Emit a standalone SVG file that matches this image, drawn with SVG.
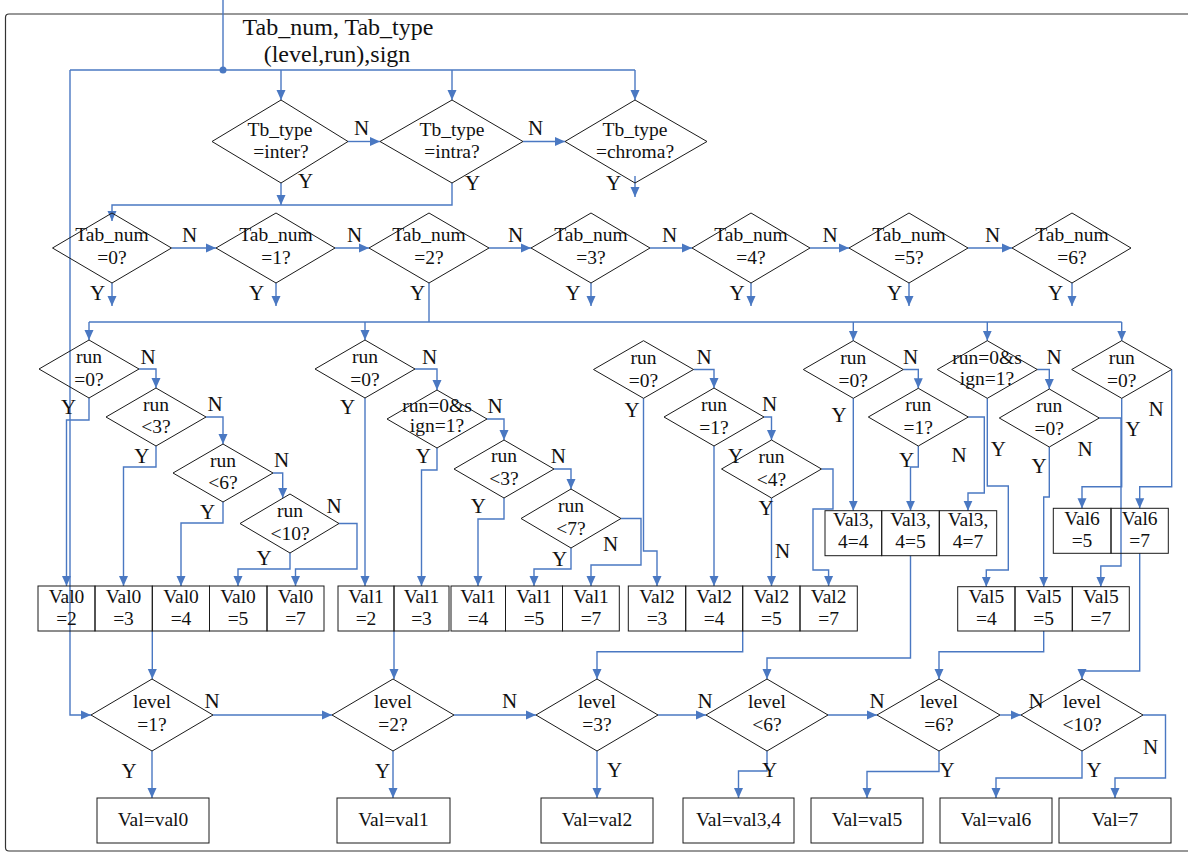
<svg xmlns="http://www.w3.org/2000/svg" width="1188" height="853" viewBox="0 0 1188 853" font-family="'Liberation Serif', 'Times New Roman', 'DejaVu Serif', serif">
<defs>
<marker id="ah" viewBox="0 0 10 10" refX="10" refY="5" markerWidth="10" markerHeight="10" markerUnits="userSpaceOnUse" orient="auto">
<path d="M0,0.5 L10,5 L0,9.5 z" fill="#4a78c2"/>
</marker>
</defs>
<style>
.c{fill:none;stroke:#4a78c2;stroke-width:1.4}
.a{marker-end:url(#ah)}
.n{fill:none;stroke:#1a1a1a;stroke-width:1}
.f{fill:none;stroke:#333;stroke-width:1.2}
text{font-family:'Liberation Serif','Times New Roman','DejaVu Serif',serif;fill:#111;text-anchor:middle}
.t{font-size:19.5px}
.l{font-size:21px}
.h{font-size:24px}
</style>
<rect width="1188" height="853" fill="#fff"/>
<!-- outer frame -->
<path class="f" d="M1192,14 H9 Q5.5,14 5.5,17.5 V847.5 Q5.5,851 9,851 H1192"/>

<!-- connectors -->
<g id="connectors">
<path class="c" d="M223,0 V70"/>
<circle cx="223" cy="70" r="3.5" fill="#4a78c2"/>
<path class="c" d="M70,70 H635"/>
<path class="c a" d="M281,70 V100"/>
<path class="c a" d="M452,70 V100"/>
<path class="c a" d="M635,70 V100"/>
<path class="c a" d="M70,70 V715 H91"/>
<path class="c a" d="M348,141.5 H380"/>
<path class="c a" d="M523,141.5 H565"/>
<path class="c a" d="M635,176 V197"/>
<path class="c a" d="M281,183 V205"/>
<path class="c a" d="M452,183 V205 H112 V221"/>
<!-- Tab_num chain -->
<path class="c a" d="M171.5,248 H216"/>
<path class="c a" d="M335,248 H369"/>
<path class="c a" d="M489,248 H531"/>
<path class="c a" d="M650,248 H692"/>
<path class="c a" d="M810,248 H849"/>
<path class="c a" d="M968,248 H1012"/>
<path class="c a" d="M112,283 V306"/>
<path class="c a" d="M276,283 V306"/>
<path class="c a" d="M591,283 V306"/>
<path class="c a" d="M751,283 V306"/>
<path class="c a" d="M909,283 V306"/>
<path class="c a" d="M1072,283 V306"/>
<path class="c" d="M429,283 V322"/>
<path class="c" d="M89,322 H1121.7"/>
<path class="c a" d="M89,322 V340"/>
<path class="c a" d="M365,322 V340"/>
<path class="c a" d="M853.3,322 V340.7"/>
<path class="c a" d="M987.3,322 V340.7"/>
<path class="c a" d="M1121.7,322 V340.7"/>
<!-- Val0 branch -->
<path class="c a" d="M139,369 H156 V388"/>
<path class="c a" d="M89,398 V420 H66.5 V586"/>
<path class="c a" d="M206,417 H223 V444"/>
<path class="c a" d="M156,446 V467 H123.5 V586"/>
<path class="c a" d="M273,473 H282.7 V498"/>
<path class="c a" d="M223,502 V523 H181 V586"/>
<path class="c a" d="M339,523.5 H357 V569 H295.5 V586"/>
<path class="c a" d="M290,553 V569 H238 V586"/>
<!-- Val1 branch -->
<path class="c a" d="M365,398 V586"/>
<path class="c a" d="M415,369 H437 V390"/>
<path class="c a" d="M437,448 V470 H421.5 V586"/>
<path class="c a" d="M487,419 H504 V440"/>
<path class="c a" d="M504,498 V519 H478 V586"/>
<path class="c a" d="M554,469 H571 V489"/>
<path class="c a" d="M571,548 V569 H534 V586"/>
<path class="c a" d="M621,518.5 H641 V565 H591 V586"/>
<!-- Val2 branch -->
<path class="c a" d="M643.5,398.3 V551 H657 V586"/>
<path class="c a" d="M693.5,369.5 H714 V388"/>
<path class="c a" d="M714,446 V586"/>
<path class="c a" d="M764,417 H771.5 V440"/>
<path class="c a" d="M771.5,498 V586"/>
<path class="c a" d="M821.5,469 H833 V509 H813 V570 H828.6 V586"/>
<!-- Val3,4 branch -->
<path class="c a" d="M853.3,398.3 V510.7"/>
<path class="c a" d="M903.3,369.5 H918.3 V388.3"/>
<path class="c a" d="M918.3,446 V467 H910.5 V510.7"/>
<path class="c a" d="M968.3,417 H984.3 V493 H968 V510.7"/>
<!-- Val5 branch -->
<path class="c a" d="M987.3,398.3 V486 H1008.3 V570 H986.3 V586.7"/>
<path class="c a" d="M1037.3,369.5 H1049.3 V389"/>
<path class="c a" d="M1049.3,447 V497 H1043.7 V586.7"/>
<path class="c a" d="M1099.3,418 H1121 V566 H1100.8 V586.7"/>
<!-- Val6 branch -->
<path class="c a" d="M1121.7,398.3 V486.7 H1082 V508.3"/>
<path class="c a" d="M1171.7,369.5 V486.7 H1139.7 V508.3"/>
<!-- level chain -->
<path class="c a" d="M152.3,631 V679"/>
<path class="c a" d="M394,631 V679"/>
<path class="c a" d="M742.7,631 V651.7 H597 V679"/>
<path class="c a" d="M910.5,555.7 V658 H767 V679"/>
<path class="c a" d="M1043.7,631 V651.7 H939 V679"/>
<path class="c a" d="M1139.7,553.3 V671 H1082 V679"/>
<path class="c a" d="M213,715 H332"/>
<path class="c a" d="M454,715 H536"/>
<path class="c a" d="M658,715 H706"/>
<path class="c a" d="M828,715 H877"/>
<path class="c a" d="M1000,715 H1021"/>
<path class="c a" d="M152,751 V798"/>
<path class="c a" d="M393,751 V798"/>
<path class="c a" d="M597,751 V798"/>
<path class="c a" d="M767,751 V771 H738.5 V798"/>
<path class="c a" d="M939,751 V771.5 H867 V798"/>
<path class="c a" d="M1082,751 V778 H996 V798"/>
<path class="c a" d="M1143,715 H1165.5 V778 H1115 V798"/>
</g>

<!-- branch labels -->
<g id="labels" class="l">
<text x="361.5" y="135">N</text>
<text x="535.5" y="135">N</text>
<text x="305.5" y="188">Y</text>
<text x="472.5" y="190">Y</text>
<text x="613.5" y="190">Y</text>
<text x="189.5" y="241.5">N</text>
<text x="354.5" y="241.5">N</text>
<text x="515.5" y="241.5">N</text>
<text x="669.5" y="241.5">N</text>
<text x="830" y="241.5">N</text>
<text x="992.5" y="241.5">N</text>
<text x="97.5" y="299.5">Y</text>
<text x="256.5" y="299.5">Y</text>
<text x="417.5" y="299.5">Y</text>
<text x="573" y="299.5">Y</text>
<text x="737" y="299.5">Y</text>
<text x="894.5" y="299.5">Y</text>
<text x="1055.5" y="299.5">Y</text>
<text x="148" y="364">N</text>
<text x="68.5" y="414">Y</text>
<text x="215" y="410.7">N</text>
<text x="141.8" y="463.3">Y</text>
<text x="281.7" y="466.7">N</text>
<text x="207.5" y="519.3">Y</text>
<text x="334" y="512.7">N</text>
<text x="264" y="565">Y</text>
<text x="347.5" y="414">Y</text>
<text x="429.5" y="364">N</text>
<text x="495" y="413.3">N</text>
<text x="423.3" y="463.3">Y</text>
<text x="558.3" y="463.3">N</text>
<text x="478.3" y="513.3">Y</text>
<text x="610.5" y="550.7">N</text>
<text x="559.5" y="566">Y</text>
<text x="704" y="364">N</text>
<text x="632" y="417.3">Y</text>
<text x="769.5" y="410.7">N</text>
<text x="735.5" y="463.3">Y</text>
<text x="766" y="515">Y</text>
<text x="782.5" y="557.7">N</text>
<text x="910.5" y="364">N</text>
<text x="839" y="421.7">Y</text>
<text x="959" y="461.7">N</text>
<text x="906.7" y="466.7">Y</text>
<text x="1054" y="364">N</text>
<text x="998.3" y="456">Y</text>
<text x="1085" y="456">N</text>
<text x="1039" y="473.3">Y</text>
<text x="1133" y="436">Y</text>
<text x="1156" y="416">N</text>
<text x="212" y="708.3">N</text>
<text x="129" y="778.3">Y</text>
<text x="509.5" y="708.3">N</text>
<text x="382.5" y="778.3">Y</text>
<text x="705" y="708.3">N</text>
<text x="614.5" y="776.7">Y</text>
<text x="769.5" y="776.7">Y</text>
<text x="877" y="708.3">N</text>
<text x="947" y="776.7">Y</text>
<text x="1036" y="708.3">N</text>
<text x="1094" y="776.7">Y</text>
<text x="1150.5" y="754">N</text>
</g>

<!-- input -->
<g id="input" class="h">
<text x="338" y="35">Tab_num, Tab_type</text>
<text x="337" y="62">(level,run),sign</text>
</g>

<!-- block type tests -->
<g id="tb_inter"><polygon class="n" points="281,100 348,141.5 281,183 212,141.5"/><text class="t" x="280" y="136">Tb_type</text><text class="t" x="281" y="158">=inter?</text></g>
<g id="tb_intra"><polygon class="n" points="452,100 523,141.5 452,183 380,141.5"/><text class="t" x="452" y="136">Tb_type</text><text class="t" x="452" y="158">=intra?</text></g>
<g id="tb_chroma"><polygon class="n" points="635,100 707,141.5 635,183 565,141.5"/><text class="t" x="635" y="136">Tb_type</text><text class="t" x="635" y="158">=chroma?</text></g>

<!-- table number tests -->
<g id="tab0"><polygon class="n" points="112,213 171.5,248 112,283 52.5,248"/><text class="t" x="112" y="241">Tab_num</text><text class="t" x="112" y="264">=0?</text></g>
<g id="tab1"><polygon class="n" points="276,213 335,248 276,283 216,248"/><text class="t" x="276" y="241">Tab_num</text><text class="t" x="276" y="264">=1?</text></g>
<g id="tab2"><polygon class="n" points="429,213 489,248 429,283 369,248"/><text class="t" x="429" y="241">Tab_num</text><text class="t" x="429" y="264">=2?</text></g>
<g id="tab3"><polygon class="n" points="591,213 650,248 591,283 531,248"/><text class="t" x="591" y="241">Tab_num</text><text class="t" x="591" y="264">=3?</text></g>
<g id="tab4"><polygon class="n" points="751,213 810,248 751,283 692,248"/><text class="t" x="751" y="241">Tab_num</text><text class="t" x="751" y="264">=4?</text></g>
<g id="tab5"><polygon class="n" points="909,213 968,248 909,283 849,248"/><text class="t" x="909" y="241">Tab_num</text><text class="t" x="909" y="264">=5?</text></g>
<g id="tab6"><polygon class="n" points="1072,213 1131,248 1072,283 1012,248"/><text class="t" x="1072" y="241">Tab_num</text><text class="t" x="1072" y="264">=6?</text></g>

<!-- run tests, table 0 -->
<g id="a0"><polygon class="n" points="89,340 139,369 89,398 39,369"/><text class="t" x="89" y="363">run</text><text class="t" x="89" y="386">=0?</text></g>
<g id="a1"><polygon class="n" points="156,388 206,417 156,446 106,417"/><text class="t" x="156" y="411">run</text><text class="t" x="156" y="433">&lt;3?</text></g>
<g id="a2"><polygon class="n" points="223,444 273,473 223,502 173,473"/><text class="t" x="223" y="467">run</text><text class="t" x="223" y="489">&lt;6?</text></g>
<g id="a3"><polygon class="n" points="290,494 339,523.5 290,553 240,523.5"/><text class="t" x="290" y="517">run</text><text class="t" x="290" y="540">&lt;10?</text></g>

<!-- run tests, table 1 -->
<g id="b0"><polygon class="n" points="365,340 415,369 365,398 315,369"/><text class="t" x="365" y="363">run</text><text class="t" x="365" y="386">=0?</text></g>
<g id="b1"><polygon class="n" points="437,390 487,419 437,448 387,419"/><text class="t" x="437" y="412">run=0&amp;s</text><text class="t" x="437" y="432">ign=1?</text></g>
<g id="b2"><polygon class="n" points="504,440 554,469 504,498 454,469"/><text class="t" x="504" y="462">run</text><text class="t" x="504" y="485">&lt;3?</text></g>
<g id="b3"><polygon class="n" points="571,489 621,518.5 571,548 521,518.5"/><text class="t" x="571" y="512">run</text><text class="t" x="571" y="535">&lt;7?</text></g>

<!-- run tests, table 2 -->
<g id="c0"><polygon class="n" points="643.5,340.7 693.5,369.5 643.5,398.3 593.5,369.5"/><text class="t" x="643.5" y="364">run</text><text class="t" x="643.5" y="386.5">=0?</text></g>
<g id="c1"><polygon class="n" points="714,388 764,417 714,446 664,417"/><text class="t" x="714" y="411">run</text><text class="t" x="714" y="433.5">=1?</text></g>
<g id="c2"><polygon class="n" points="771.5,440 821.5,469 771.5,498 721.5,469"/><text class="t" x="771.5" y="463">run</text><text class="t" x="771.5" y="486">&lt;4?</text></g>

<!-- run tests, table 3/4 -->
<g id="d0"><polygon class="n" points="853.3,340.7 903.3,369.5 853.3,398.3 803.3,369.5"/><text class="t" x="853.3" y="364">run</text><text class="t" x="853.3" y="386.5">=0?</text></g>
<g id="d1"><polygon class="n" points="918.3,388.3 968.3,417 918.3,446 868.3,417"/><text class="t" x="918.3" y="411">run</text><text class="t" x="918.3" y="433.5">=1?</text></g>

<!-- run tests, table 5 -->
<g id="e0"><polygon class="n" points="987.3,340.7 1037.3,369.5 987.3,398.3 937.3,369.5"/><text class="t" x="987" y="364">run=0&amp;s</text><text class="t" x="987" y="385">ign=1?</text></g>
<g id="e1"><polygon class="n" points="1049.3,389 1099.3,418 1049.3,447 999.3,418"/><text class="t" x="1049.3" y="412">run</text><text class="t" x="1049.3" y="434.5">=0?</text></g>

<!-- run test, table 6 -->
<g id="f0"><polygon class="n" points="1121.7,340.7 1171.7,369.5 1121.7,398.3 1071.7,369.5"/><text class="t" x="1121.7" y="364">run</text><text class="t" x="1121.7" y="386.5">=0?</text></g>

<!-- value tables -->
<g id="val0" class="t">
<rect class="n" x="38" y="586" width="57" height="45"/><rect class="n" x="95" y="586" width="57.3" height="45"/><rect class="n" x="152.3" y="586" width="57.2" height="45"/><rect class="n" x="209.5" y="586" width="57.5" height="45"/><rect class="n" x="267" y="586" width="57" height="45"/>
<text x="66.5" y="602.7">Val0</text><text x="66.5" y="625">=2</text>
<text x="123.5" y="602.7">Val0</text><text x="123.5" y="625">=3</text>
<text x="181" y="602.7">Val0</text><text x="181" y="625">=4</text>
<text x="238" y="602.7">Val0</text><text x="238" y="625">=5</text>
<text x="295.5" y="602.7">Val0</text><text x="295.5" y="625">=7</text>
</g>
<g id="val1" class="t">
<rect class="n" x="338" y="586" width="56" height="45"/><rect class="n" x="394" y="586" width="55" height="45"/><rect class="n" x="451" y="586" width="54.5" height="45"/><rect class="n" x="505.5" y="586" width="57" height="45"/><rect class="n" x="562.5" y="586" width="56.8" height="45"/>
<text x="366" y="602.7">Val1</text><text x="366" y="625">=2</text>
<text x="421.5" y="602.7">Val1</text><text x="421.5" y="625">=3</text>
<text x="478" y="602.7">Val1</text><text x="478" y="625">=4</text>
<text x="534" y="602.7">Val1</text><text x="534" y="625">=5</text>
<text x="591" y="602.7">Val1</text><text x="591" y="625">=7</text>
</g>
<g id="val2" class="t">
<rect class="n" x="628.3" y="586" width="57.4" height="45"/><rect class="n" x="685.7" y="586" width="57" height="45"/><rect class="n" x="742.7" y="586" width="57.3" height="45"/><rect class="n" x="800" y="586" width="57.3" height="45"/>
<text x="657" y="602.7">Val2</text><text x="657" y="625">=3</text>
<text x="714.2" y="602.7">Val2</text><text x="714.2" y="625">=4</text>
<text x="771.3" y="602.7">Val2</text><text x="771.3" y="625">=5</text>
<text x="828.6" y="602.7">Val2</text><text x="828.6" y="625">=7</text>
</g>
<g id="val34" class="t">
<rect class="n" x="825" y="510.7" width="56.7" height="45"/><rect class="n" x="881.7" y="510.7" width="57.6" height="45"/><rect class="n" x="939.3" y="510.7" width="57.4" height="45"/>
<text x="853.3" y="526">Val3,</text><text x="853.3" y="548">4=4</text>
<text x="910.5" y="526">Val3,</text><text x="910.5" y="548">4=5</text>
<text x="968" y="526">Val3,</text><text x="968" y="548">4=7</text>
</g>
<g id="val5" class="t">
<rect class="n" x="957.7" y="586.7" width="57.3" height="44.3"/><rect class="n" x="1015" y="586.7" width="57.3" height="44.3"/><rect class="n" x="1072.3" y="586.7" width="57" height="44.3"/>
<text x="986.3" y="603">Val5</text><text x="986.3" y="625">=4</text>
<text x="1043.7" y="603">Val5</text><text x="1043.7" y="625">=5</text>
<text x="1100.8" y="603">Val5</text><text x="1100.8" y="625">=7</text>
</g>
<g id="val6" class="t">
<rect class="n" x="1053.3" y="508.3" width="57.7" height="45"/><rect class="n" x="1111" y="508.3" width="57.3" height="45"/>
<text x="1082" y="525">Val6</text><text x="1082" y="546.7">=5</text>
<text x="1139.7" y="525">Val6</text><text x="1139.7" y="546.7">=7</text>
</g>

<!-- level tests -->
<g id="lv1"><polygon class="n" points="152,679 213,715 152,751 91,715"/><text class="t" x="152" y="708">level</text><text class="t" x="152" y="731">=1?</text></g>
<g id="lv2"><polygon class="n" points="393,679 454,715 393,751 332,715"/><text class="t" x="393" y="708">level</text><text class="t" x="393" y="731">=2?</text></g>
<g id="lv3"><polygon class="n" points="597,679 658,715 597,751 536,715"/><text class="t" x="597" y="708">level</text><text class="t" x="597" y="731">=3?</text></g>
<g id="lv4"><polygon class="n" points="767,679 828,715 767,751 706,715"/><text class="t" x="767" y="708">level</text><text class="t" x="767" y="731">&lt;6?</text></g>
<g id="lv5"><polygon class="n" points="939,679 1000,715 939,751 877,715"/><text class="t" x="939" y="708">level</text><text class="t" x="939" y="731">=6?</text></g>
<g id="lv6"><polygon class="n" points="1082,679 1143,715 1082,751 1021,715"/><text class="t" x="1082" y="708">level</text><text class="t" x="1082" y="731">&lt;10?</text></g>

<!-- results -->
<g id="res0"><rect class="n" x="97" y="798" width="112" height="45"/><text class="t" x="153" y="826">Val=val0</text></g>
<g id="res1"><rect class="n" x="337" y="798" width="113" height="45"/><text class="t" x="393.5" y="826">Val=val1</text></g>
<g id="res2"><rect class="n" x="541" y="798" width="112" height="45"/><text class="t" x="597" y="826">Val=val2</text></g>
<g id="res3"><rect class="n" x="683" y="798" width="111" height="45"/><text class="t" x="738.5" y="826">Val=val3,4</text></g>
<g id="res4"><rect class="n" x="811" y="798" width="112" height="45"/><text class="t" x="867" y="826">Val=val5</text></g>
<g id="res5"><rect class="n" x="940" y="798" width="112" height="45"/><text class="t" x="996" y="826">Val=val6</text></g>
<g id="res6"><rect class="n" x="1059" y="798" width="112" height="45"/><text class="t" x="1115" y="826">Val=7</text></g>
</svg>
